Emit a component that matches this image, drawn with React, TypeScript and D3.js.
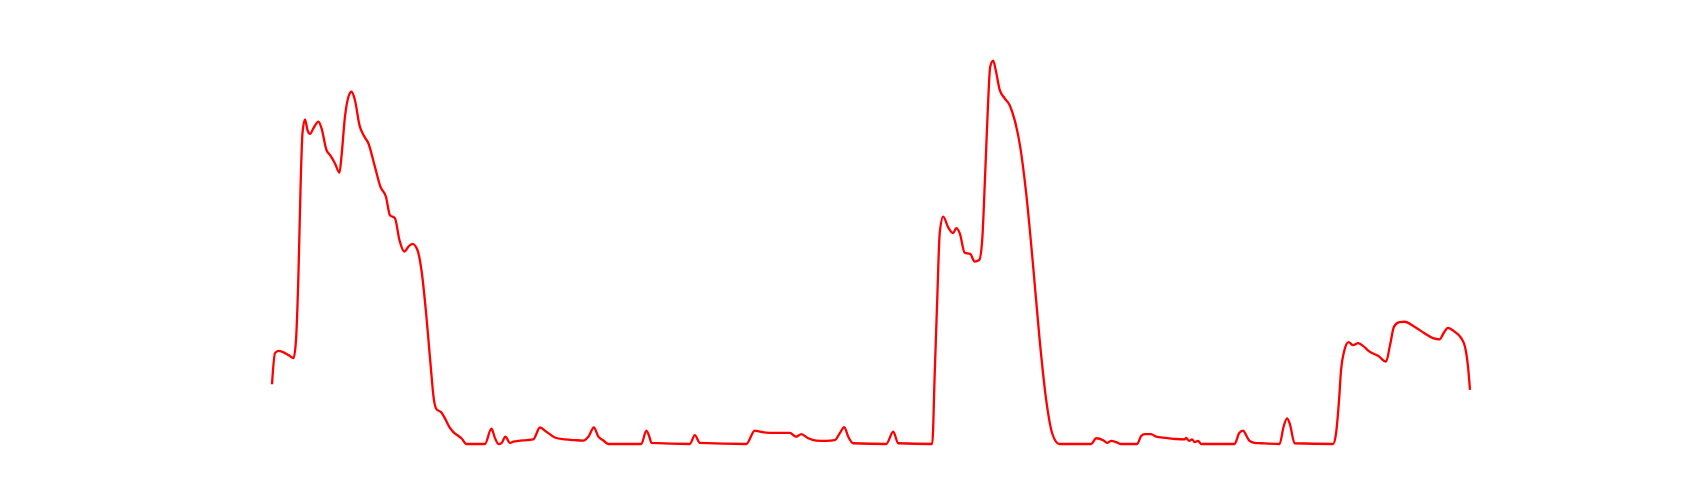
import React, { useEffect, useRef } from 'react';
import * as d3 from 'd3';

// sample positions (arbitrary time units) and measured level
const positions = [
  0, 0.6, 1.3, 3.3, 4.3, 4.8, 5.3, 5.7, 6.1, 6.6, 7.1, 7.6, 8.3, 9.3, 9.9, 10.9, 11.6, 12.6, 13.5, 13.9,
  14.6, 15.3, 15.9, 16.6, 17.5, 18.3, 19.3, 20.6, 21.7, 22.8, 23.6, 24.6, 25.5, 26.5, 27.3, 28.1, 29.1, 29.9, 30.9, 31.7,
  32.4, 32.9, 33.9, 34.6, 35.5, 36.3, 37.5, 37.9, 38.9, 42.6, 43.9, 44.6, 45.3, 45.9, 46.7, 47.6, 48.3, 49.3, 50.9, 52.3,
  53.6, 54.9, 56.6, 58.6, 60.6, 62.3, 63.3, 64.4, 65.3, 66.3, 67.3, 73.9, 74.9, 75.6, 75.9, 83.6, 84.6, 85.6, 94.9, 96.6,
  97.6, 99.6, 101.6, 103.6, 104.9, 105.9, 107.3, 108.9, 110.9, 112.6, 113.6, 114.5, 115.3, 116.3, 122.9, 124.3, 125.3, 132.1, 132.6, 133.1,
  133.6, 134.3, 135.3, 136.3, 136.9, 137.6, 138.6, 139.7, 140.6, 141.5, 142.1, 142.7, 143.3, 143.7, 144.3, 144.8, 145.6, 146.6, 147.6, 148.6,
  149.7, 150.9, 152.3, 153.6, 154.9, 156.1, 157.5, 163.9, 164.9, 166.3, 167.1, 167.9, 168.9, 169.9, 173.1, 173.9, 174.6, 175.9, 176.9, 178.9,
  180.9, 182.6, 182.9, 183.5, 184.1, 184.6, 185.3, 185.9, 192.6, 193.5, 194.3, 194.9, 195.6, 196.6, 197.9, 201.6, 202.4, 203.1, 203.7, 204.6,
  212.3, 212.9, 213.5, 213.9, 214.5, 215.4, 216.3, 217.3, 218.3, 219.6, 221.3, 222.9, 223.7, 224.5, 225.6, 226.6, 228.6, 230.6, 232.3, 233.6,
  234.4, 235.3, 236.6, 237.9, 238.7, 239.3, 239.7,
];

const levels = [
  15.6, 23.7, 24.3, 23.2, 22.4, 27.1, 44.6, 66.3, 81.1, 84.7, 81.9, 80.9, 82.4, 84.1, 82.4, 76.7, 75.4, 73.2, 70.8, 75.0,
  85.4, 90.6, 91.9, 89.7, 83.2, 80.6, 78.4, 72.3, 67.1, 64.5, 59.7, 58.9, 53.2, 50.2, 51.5, 52.2, 50.6, 45.4, 33.2, 21.1,
  11.5, 9.1, 8.2, 6.7, 4.4, 3.1, 1.9, 1.5, 0, 0, 4.0, 1.6, 0, 0.2, 1.9, 0.3, 0.6, 0.8, 1.0, 1.2,
  4.3, 3.2, 1.7, 1.2, 1.0, 0.9, 1.9, 4.3, 1.9, 0.9, 0, 0, 3.5, 1.5, 0.3, 0, 2.3, 0.3, 0, 3.5,
  3.2, 2.9, 2.9, 2.9, 1.9, 2.6, 1.5, 0.9, 0.8, 1.0, 2.8, 4.4, 1.9, 0.2, 0, 3.2, 0.2, 0, 18.4, 37.6,
  55.0, 59.3, 56.5, 55.0, 56.3, 55.0, 49.9, 49.6, 47.6, 48.0, 53.2, 70.6, 89.7, 98.4, 100, 97.6, 92.4, 90.2, 88.4, 84.5,
  77.6, 65.4, 46.3, 27.1, 11.5, 2.8, 0, 0, 1.5, 1.0, 0.3, 0.8, 0.5, 0, 0, 2.1, 2.6, 2.6, 1.9, 1.6,
  1.3, 1.2, 1.6, 0.8, 1.2, 0.5, 0.8, 0, 0, 2.8, 3.5, 2.3, 0.8, 0.3, 0.2, 0, 4.5, 6.7, 5.0, 0.2,
  0, 2.8, 11.5, 19.3, 24.1, 26.6, 25.8, 26.3, 25.6, 24.1, 23.0, 21.5, 25.8, 30.6, 31.8, 31.9, 30.6, 28.9, 27.6, 27.3,
  28.9, 30.3, 29.3, 27.7, 25.4, 20.2, 14.1,
];

export default function App() {
  const svgRef = useRef<SVGSVGElement | null>(null);

  useEffect(() => {
    if (!svgRef.current) return;
    const svg = d3.select(svgRef.current);
    svg.selectAll("*").remove();

    const width = 1700;
    const height = 500;
    const margin = { top: 60.7, right: 230, bottom: 56, left: 272 };

    const data = positions.map((p, i) => ({ p, v: levels[i] }));

    const x = d3.scaleLinear()
      .domain([0, 239.7])
      .range([margin.left, width - margin.right]);

    const y = d3.scaleLinear()
      .domain([0, 100])
      .range([height - margin.bottom, margin.top]);

    const line = d3.line<{ p: number; v: number }>()
      .x(d => x(d.p))
      .y(d => y(d.v))
      .curve(d3.curveMonotoneX);

    svg.append("path")
      .datum(data)
      .attr("fill", "none")
      .attr("stroke", "#ff0000")
      .attr("stroke-width", 2.3)
      .attr("stroke-linejoin", "round")
      .attr("stroke-linecap", "butt")
      .attr("d", line);
  }, []);

  return (
    <div style={{ position: 'fixed', top: 0, left: 0, background: '#fff' }}>
      <svg ref={svgRef} width={1700} height={500} style={{ display: 'block' }}></svg>
    </div>
  );
}
